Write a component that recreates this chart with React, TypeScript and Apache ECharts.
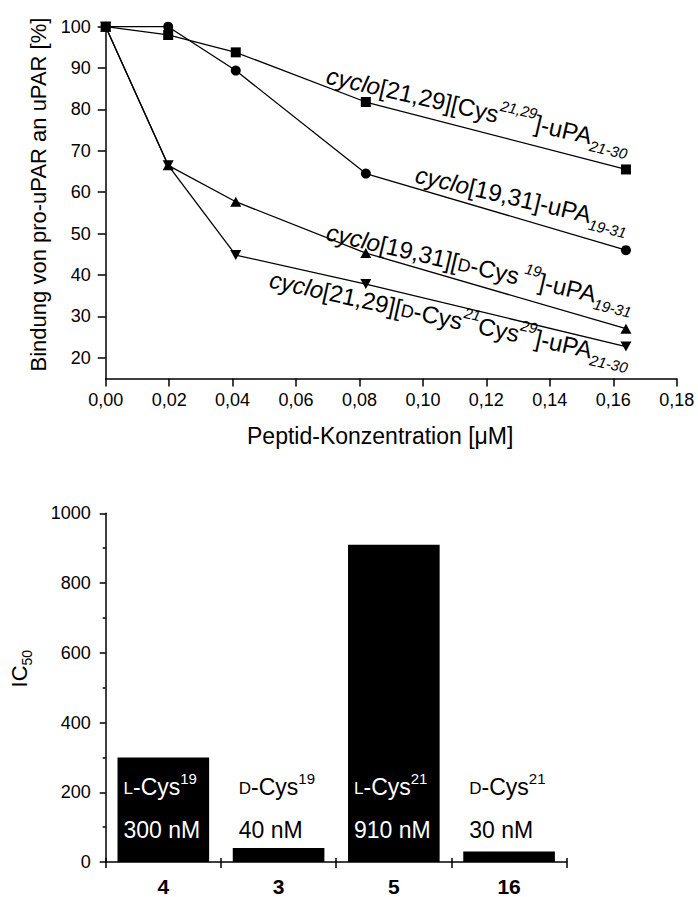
import React, { useEffect, useRef } from 'react';
import * as echarts from 'echarts';

// ---- Top chart data ----
const concentrations = [0, 0.0197, 0.041, 0.082, 0.164];
const bindingCys2129 = [100, 98, 93.8, 81.8, 65.5];
const binding1931 = [100, 100, 89.4, 64.5, 46];
const bindingDCys19 = [100, 66.5, 57.7, 45.3, 27];
const bindingDCys21 = [100, 66.5, 44.8, 37.8, 22.7];
const yTicksTop = [20, 30, 40, 50, 60, 70, 80, 90, 100];

// ---- Bottom chart data ----
const barCategories = ['4', '3', '5', '16'];
const ic50Values = [300, 40, 910, 30];
const isomers = ['L', 'D', 'L', 'D'];
const residues = ['19', '19', '21', '21'];

const FONT = "'Liberation Sans', Arial, Helvetica, sans-serif";

const annRich = {
  it: { fontSize: 24, fontStyle: 'italic', lineHeight: 34, fontFamily: FONT, fill: '#000', color: '#000' },
  m: { fontSize: 24, lineHeight: 34, fontFamily: FONT, fill: '#000', color: '#000' },
  sc: { fontSize: 18, verticalAlign: 'bottom', padding: [0, 0, 6, 0], fontFamily: FONT, fill: '#000', color: '#000' },
  sup: { fontSize: 15, fontStyle: 'italic', verticalAlign: 'top', fontFamily: FONT, fill: '#000', color: '#000' },
  sub: { fontSize: 15, fontStyle: 'italic', verticalAlign: 'bottom', fontFamily: FONT, fill: '#000', color: '#000' },
};

const annotations = [
  { text: '{it|cyclo}{m|[21,29][Cys}{sup|21,29}{m|]-uPA}{sub|21-30}', x: 327, y: 75, deg: 13 },
  { text: '{it|cyclo}{m|[19,31]-uPA}{sub|19-31}', x: 416, y: 174, deg: 13.2 },
  { text: '{it|cyclo}{m|[19,31][}{sc|D}{m|-Cys}{sup| 19}{m|]-uPA}{sub|19-31}', x: 327, y: 231.5, deg: 13.2 },
  { text: '{it|cyclo}{m|[21,29][}{sc|D}{m|-Cys}{sup|21}{m|Cys}{sup|29}{m|]-uPA}{sub|21-30}', x: 270, y: 279, deg: 12.5 },
];

function barRich() {
  const r: any = {};
  const variants: [string, string][] = [['W', '#fff'], ['B', '#000']];
  variants.forEach(([k, c]) => {
    r['sc' + k] = { fontSize: 17, color: c, fontFamily: FONT, verticalAlign: 'bottom', padding: [0, 0, 11, 0] };
    r['m' + k] = { fontSize: 23, color: c, fontFamily: FONT, lineHeight: 43 };
    r['sup' + k] = { fontSize: 15, color: c, fontFamily: FONT, verticalAlign: 'top', padding: [6, 0, 0, 0] };
  });
  return r;
}

const axisLineStyle = { color: '#000', width: 1.5 };

export default function App() {
  const ref = useRef<HTMLDivElement>(null);
  useEffect(() => {
    if (!ref.current) return;
    const chart = echarts.init(ref.current, null, { renderer: 'svg' });
    const lineSeries = (name: string, vals: number[], symbol: string, size: any, rotate = 0) => ({
      type: 'line',
      name,
      xAxisIndex: 0,
      yAxisIndex: 0,
      data: concentrations.map((c, i) => [c, vals[i]]),
      symbol,
      symbolSize: size,
      symbolRotate: rotate,
      itemStyle: { color: '#000' },
      lineStyle: { color: '#000', width: 1.3 },
      z: 3,
    });
    chart.setOption({
      animation: false,
      textStyle: { fontFamily: FONT, color: '#000' },
      grid: [
        { left: 105.7, top: 26.7, width: 571, height: 351.7 },
        { left: 105.7, top: 513.3, width: 461, height: 349 },
      ],
      xAxis: [
        {
          gridIndex: 0,
          type: 'value',
          min: 0,
          max: 0.18,
          interval: 0.02,
          axisLine: { show: true, lineStyle: axisLineStyle },
          axisTick: { show: true, length: 8, lineStyle: axisLineStyle },
          axisLabel: {
            formatter: (v: number) => v.toFixed(2).replace('.', ','),
            fontSize: 18,
            color: '#000',
            margin: 13,
            fontFamily: FONT,
          },
          splitLine: { show: false },
          name: 'Peptid-Konzentration [μM]',
          nameLocation: 'middle',
          nameGap: 46,
          nameTextStyle: { fontSize: 23, color: '#000', fontFamily: FONT, padding: [0, 22, 0, 0] },
        },
        {
          gridIndex: 1,
          type: 'category',
          data: barCategories,
          boundaryGap: true,
          axisLine: { show: true, lineStyle: axisLineStyle },
          axisTick: { show: true, alignWithLabel: false, length: 6, lineStyle: axisLineStyle },
          axisLabel: { fontSize: 21, fontWeight: 'bold', color: '#000', margin: 14, fontFamily: FONT },
          splitLine: { show: false },
        },
        {
          gridIndex: 1,
          type: 'category',
          data: barCategories,
          position: 'bottom',
          boundaryGap: true,
          axisLine: { show: false },
          axisTick: { show: true, inside: true, alignWithLabel: false, length: 4, lineStyle: axisLineStyle },
          axisLabel: { show: false },
          splitLine: { show: false },
        },
      ],
      yAxis: [
        {
          gridIndex: 0,
          type: 'value',
          min: 15,
          max: 100,
          axisLine: { show: true, lineStyle: axisLineStyle },
          axisTick: { show: true, length: 8, lineStyle: axisLineStyle, customValues: yTicksTop },
          axisLabel: { fontSize: 18, color: '#000', margin: 15, fontFamily: FONT, customValues: yTicksTop },
          splitLine: { show: false },
          name: 'Bindung von pro-uPAR an uPAR [%]',
          nameLocation: 'middle',
          nameRotate: 90,
          nameGap: 50,
          nameTextStyle: { fontSize: 22, color: '#000', fontFamily: FONT, padding: [0, 0, 0, 16] },
        },
        {
          gridIndex: 1,
          type: 'value',
          min: 0,
          max: 1000,
          interval: 200,
          axisLine: { show: true, lineStyle: axisLineStyle },
          axisTick: { show: true, length: 6, lineStyle: axisLineStyle },
          minorTick: { show: true, splitNumber: 2, length: 3, lineStyle: { color: '#000', width: 1.5 } },
          axisLabel: {
            fontSize: 18,
            color: '#000',
            margin: 15,
            fontFamily: FONT,
            formatter: (v: number) => String(v),
          },
          splitLine: { show: false },
          name: '{m|IC}{sub|50}',
          nameLocation: 'middle',
          nameRotate: 90,
          nameGap: 72,
          nameTextStyle: {
            fontFamily: FONT,
            padding: [0, 0, 0, 38],
            rich: {
              m: { fontSize: 22, lineHeight: 28, color: '#000', fontFamily: FONT },
              sub: { fontSize: 14, verticalAlign: 'bottom', color: '#000', fontFamily: FONT },
            },
          },
        },
      ],
      series: [
        lineSeries('cyclo[21,29][Cys21,29]-uPA21-30', bindingCys2129, 'rect', 10),
        lineSeries('cyclo[19,31]-uPA19-31', binding1931, 'circle', 10),
        lineSeries('cyclo[19,31][D-Cys19]-uPA19-31', bindingDCys19, 'triangle', [11, 10]),
        lineSeries('cyclo[21,29][D-Cys21Cys29]-uPA21-30', bindingDCys21, 'triangle', [11, 10], 180),
        {
          type: 'bar',
          xAxisIndex: 1,
          yAxisIndex: 1,
          data: ic50Values,
          barWidth: '79.5%',
          itemStyle: { color: '#000' },
          label: {
            show: true,
            position: 'insideBottomLeft',
            distance: 6,
            padding: [0, 0, 5, 0],
            formatter: (p: any) => {
              const i = p.dataIndex;
              const k = ic50Values[i] > 100 ? 'W' : 'B';
              return `{sc${k}|${isomers[i]}}{m${k}|-Cys}{sup${k}|${residues[i]}}\n{m${k}|${ic50Values[i]} nM}`;
            },
            rich: barRich(),
          },
        },
      ],
      graphic: annotations.map((a) => ({
        type: 'text',
        x: a.x,
        y: a.y,
        rotation: (-a.deg * Math.PI) / 180,
        z: 10,
        style: {
          text: a.text,
          rich: annRich,
          fill: '#000',
          fontFamily: FONT,
          fontSize: 24,
          align: 'left',
          verticalAlign: 'middle',
          textAlign: 'left',
          textVerticalAlign: 'middle',
        },
      })),
    });
    return () => chart.dispose();
  }, []);
  return (
    <div
      ref={ref}
      style={{ position: 'fixed', left: 0, top: 0, width: 698, height: 897, background: '#fff' }}
    />
  );
}
